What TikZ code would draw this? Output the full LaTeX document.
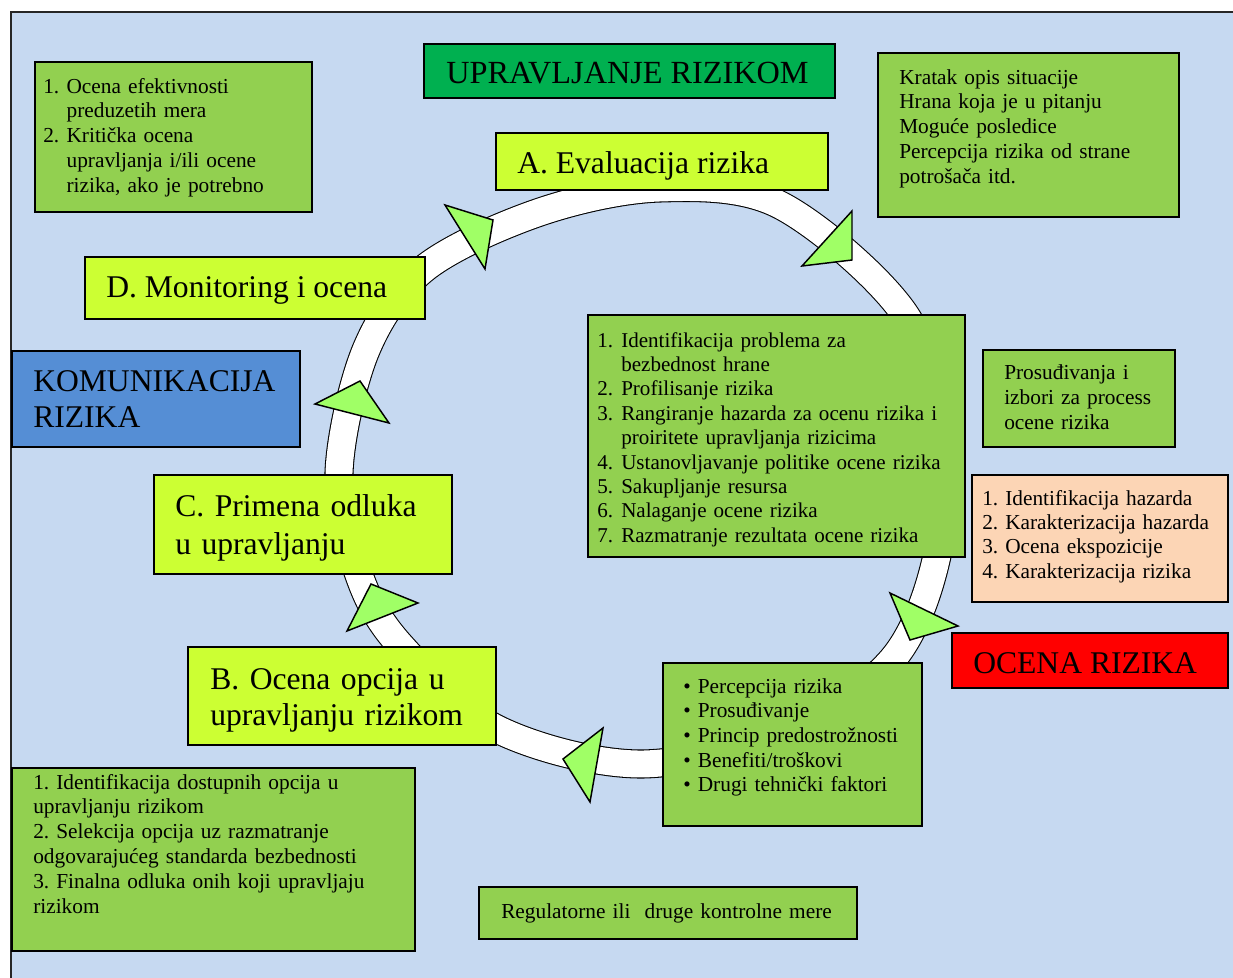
\documentclass[tikz,border=0pt]{standalone}
\usepackage{fontspec}
\setmainfont{Liberation Serif}
\frenchspacing
\definecolor{bgblue}{HTML}{C6D9F1}
\definecolor{boxgreen}{HTML}{92D050}
\definecolor{lime}{HTML}{CCFF33}
\definecolor{darkgreen}{HTML}{00B050}
\definecolor{komblue}{HTML}{558ED5}
\definecolor{peach}{HTML}{FCD5B5}
\definecolor{trigreen}{HTML}{A0FF66}
\newcommand\numb[2][17.5pt]{\makebox[#1][l]{#2}}
\begin{document}
\begin{tikzpicture}[x=0.75pt,y=-0.75pt,
  box/.style={draw=black, line width=1.1pt},
  txt/.style={anchor=base west, inner sep=0pt, text width=420pt, align=left,
    font=\fontsize{16}{18.6}\selectfont},
  big/.style={anchor=base west, inner sep=0pt, font=\fontsize{23.7}{27}\selectfont},
  bigm/.style={big, text width=320pt, align=left},
  tri/.style={draw=black, line width=1.1pt, fill=trigreen, line join=miter}
]
\useasboundingbox (0,0) rectangle (1233,978);
\fill[bgblue] (11,12) rectangle (1250,1000);
\draw[black!85, line width=0.8pt] (1250,12) -- (11,12) -- (11,1000);

% ring
\draw[line width=0.8pt, double=white, double distance=20.2pt]
  plot[smooth cycle, tension=0.55] coordinates {
  (660,188) (780,205) (904,313) (943,440) (936,560) (892,660) (790,730)
  (640,764) (497,729) (400,645) (359,575) (339,473) (366,350) (425,268) (540,212)};

% boxes
\filldraw[box, fill=boxgreen] (35,62) rectangle (312,212);
\filldraw[box, fill=darkgreen] (424,44) rectangle (835,98);
\filldraw[box, fill=boxgreen] (878,53) rectangle (1179,217);
\filldraw[box, fill=lime] (496,133) rectangle (828,190);
\filldraw[box, fill=lime] (85,257) rectangle (425,319);
\filldraw[box, fill=komblue] (12,351) rectangle (300,447);
\filldraw[box, fill=boxgreen] (588,315) rectangle (965,557);
\filldraw[box, fill=boxgreen] (983,350) rectangle (1175,447);
\filldraw[box, fill=peach] (972,475) rectangle (1228,602);
\filldraw[box, fill=red] (952,633) rectangle (1228,688);
\filldraw[box, fill=lime] (154,475) rectangle (452,574);
\filldraw[box, fill=lime] (188,647) rectangle (496,745);
\filldraw[box, fill=boxgreen] (663,663) rectangle (922,826);
\filldraw[box, fill=boxgreen] (479,887) rectangle (857,939);
\filldraw[box, fill=boxgreen] (12,768) rectangle (415,951);

% texts
\node[txt] (tlt) at (43,93) {\numb{1.}Ocena efektivnosti\\\numb{}preduzetih mera\\\numb{2.}Kritička ocena\\\numb{}upravljanja i/ili ocene\\\numb{}rizika, ako je potrebno};
\node[big, font=\fontsize{24.2}{27}\selectfont] (upr) at (446,83) {UPRAVLJANJE RIZIKOM};
\node[txt] (trt) at (899,84) {Kratak opis situacije\\Hrana koja je u pitanju\\Moguće posledice\\Percepcija rizika od strane\\potrošača itd.};
\node[big] (at) at (517,173) {A. Evaluacija rizika};
\node[big] (dt) at (106,297) {D. Monitoring i ocena};
\node[bigm] (kt) at (33,391) {KOMUNIKACIJA\\RIZIKA};
\node[txt, font=\fontsize{15.8}{18.3}\selectfont] (ct) at (597,347) {\numb[18pt]{1.}Identifikacija problema za\\\numb[18pt]{}bezbednost hrane\\\numb[18pt]{2.}Profilisanje rizika\\\numb[18pt]{3.}Rangiranje hazarda za ocenu rizika i\\\numb[18pt]{}proiritete upravljanja rizicima\\\numb[18pt]{4.}Ustanovljavanje politike ocene rizika\\\numb[18pt]{5.}Sakupljanje resursa\\\numb[18pt]{6.}Nalaganje ocene rizika\\\numb[18pt]{7.}Razmatranje rezultata ocene rizika};
\node[txt, font=\fontsize{16}{18.75}\selectfont] (pt) at (1004,379) {Prosuđivanja i\\izbori za process\\ocene rizika};
\node[txt, font=\fontsize{16}{18.3}\selectfont] (pe) at (982,505) {\numb[17.25pt]{1.}Identifikacija hazarda\\\numb[17.25pt]{2.}Karakterizacija hazarda\\\numb[17.25pt]{3.}Ocena ekspozicije\\\numb[17.25pt]{4.}Karakterizacija rizika};
\node[big] (ot) at (973,673) {OCENA RIZIKA};
\node[bigm, font=\fontsize{23.7}{28.5}\selectfont] (cct) at (175,516) {C. Primena odluka\\u upravljanju};
\node[bigm] (bt) at (210,689) {B. Ocena opcija u\\upravljanju rizikom};
\node[txt, font=\fontsize{16}{18.56}\selectfont] (bul) at (683,693) {• Percepcija rizika\\• Prosuđivanje\\• Princip predostrožnosti\\• Benefiti/troškovi\\• Drugi tehnički faktori};
\node[txt] (reg) at (501,918) {Regulatorne ili\ \ druge kontrolne mere};
\node[txt, font=\fontsize{16}{18.6}\selectfont] (blt) at (33,789) {1. Identifikacija dostupnih opcija u\\upravljanju rizikom\\2. Selekcija opcija uz razmatranje\\odgovarajućeg standarda bezbednosti\\3. Finalna odluka onih koji upravljaju\\rizikom};

% arrowheads
\filldraw[tri] (445,205) -- (493,220) -- (485,269) -- cycle;
\filldraw[tri] (852,211) -- (852,260) -- (802,266) -- cycle;
\filldraw[tri] (360,381) -- (315,404) -- (389,423) -- cycle;
\filldraw[tri] (371,584) -- (418,603) -- (347,631) -- cycle;
\filldraw[tri] (603,728) -- (563,759) -- (590,802) -- cycle;
\filldraw[tri] (890,593) -- (958,626) -- (910,640) -- cycle;
\end{tikzpicture}
\end{document}
